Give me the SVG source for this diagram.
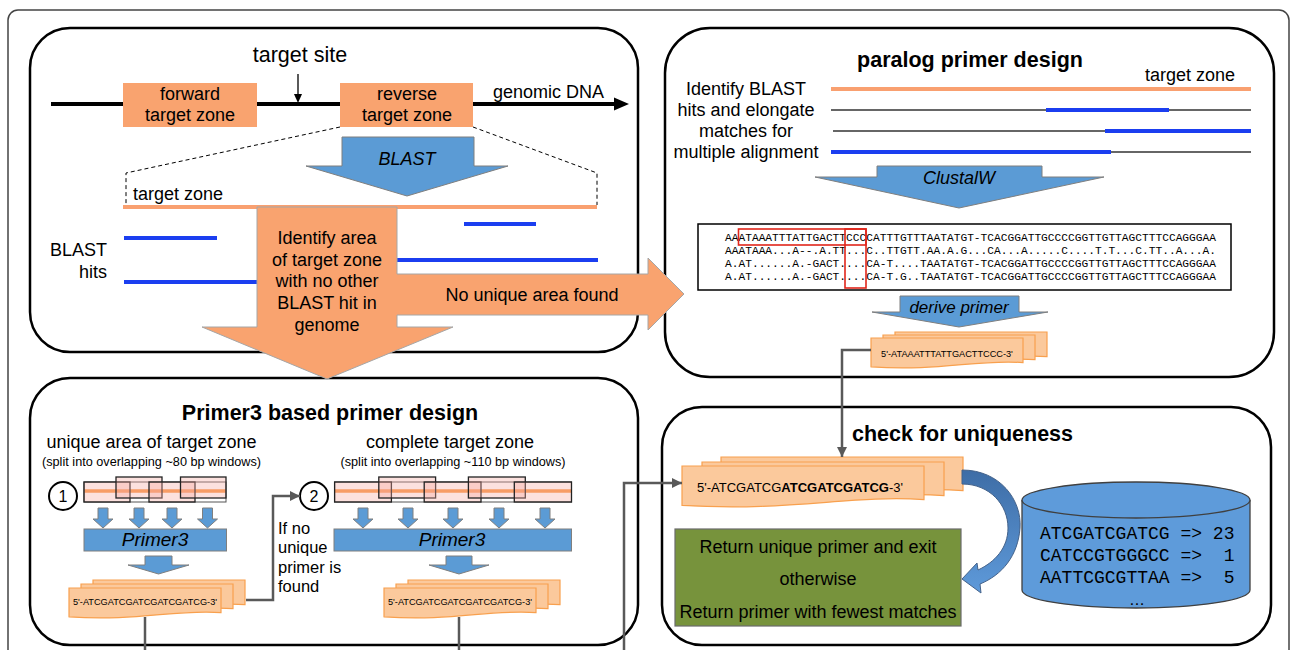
<svg xmlns="http://www.w3.org/2000/svg" width="1290" height="650" viewBox="0 0 1290 650">
<defs>
<style>
text{font-family:"Liberation Sans",Arial,sans-serif;fill:#000}
.t18{font-size:18px}
.c{text-anchor:middle}
.it{font-style:italic}
.title{font-weight:bold;font-size:21.5px}
.panel{fill:#fff;stroke:#000;stroke-width:2.5}
.blue{fill:#5B9BD5;stroke:#7F7F7F;stroke-width:1}
.zone{fill:#F9A36F}
.doc{fill:#FBC99C;stroke:#F8A04E;stroke-width:1.2}
.conn{fill:none;stroke:#595959;stroke-width:2.5}
.hit{stroke:#1B3EF0;stroke-width:4}
.thin{stroke:#333;stroke-width:1.3}
.oline{stroke:#F9A070;stroke-width:4}
.mono{font-family:"Liberation Mono","Courier New",monospace}
.pre{white-space:pre}
.win{fill:#F7A9A0;fill-opacity:0.35;stroke:#222;stroke-width:1.3}
.strip{fill:none;stroke:#555;stroke-width:1}
.red{fill:none;stroke:#E0261B;stroke-width:1.6}
</style>
<marker id="ah" viewBox="0 0 10 10" refX="10" refY="5" markerWidth="4" markerHeight="4" orient="auto" markerUnits="strokeWidth"><path d="M0,0 L10,5 L0,10 Z" fill="#595959"/></marker>
<path id="doc152" d="M0,0 H152 V24.6 C106.4,21 68.4,33.6 0,28.8 Z"/>
<path id="doc242" d="M0,0 H242 V33.6 C169.4,28.7 108.9,45.9 0,39.4 Z"/>
<path id="sa" d="M-5,0 h10 v11 h5 l-10,9 l-10,-9 h5 Z"/>
<linearGradient id="cg" x1="0" y1="0" x2="0" y2="1">
<stop offset="0" stop-color="#3E6DA6"/>
<stop offset="1" stop-color="#5E9ADA"/>
</linearGradient>
</defs>

<rect x="8" y="10" width="1281" height="700" rx="10" fill="#fff" stroke="#444" stroke-width="1.5"/>

<!-- Panel 1: target zone -->
<g id="panel-target">
<rect class="panel" x="30" y="28" width="608" height="324" rx="40"/>
<text class="c" x="300" y="62" style="font-size:21.5px">target site</text>
<line x1="298" y1="74" x2="298" y2="96" stroke="#000" stroke-width="1.3"/>
<path d="M294,94 L298,103 L302,94 Z" fill="#000"/>
<line x1="51" y1="104" x2="616" y2="104" stroke="#000" stroke-width="4"/>
<path d="M614,97.5 L629,104 L614,110.5 Z" fill="#000"/>
<text class="t18" x="493" y="98">genomic DNA</text>
<rect class="zone" x="123" y="83" width="134" height="44"/>
<text class="t18 c" x="190" y="100">forward</text>
<text class="t18 c" x="190" y="121">target zone</text>
<rect class="zone" x="340" y="83" width="133" height="44"/>
<text class="t18 c" x="407" y="100">reverse</text>
<text class="t18 c" x="407" y="121">target zone</text>
<path d="M340,127 L126,173 V205 M473,127 L597,173 V205" fill="none" stroke="#000" stroke-width="1" stroke-dasharray="4,3"/>
<path class="blue" d="M342,137 H474 V166 H508 L407,196 L306,166 H342 Z"/>
<text class="t18 c it" x="407" y="165">BLAST</text>
<text class="t18" x="133" y="200">target zone</text>
<line class="oline" x1="123" y1="207" x2="597" y2="207"/>
<line class="hit" x1="124" y1="238" x2="217" y2="238"/>
<line class="hit" x1="124" y1="282" x2="258" y2="282"/>
<line class="hit" x1="464" y1="224" x2="536" y2="224"/>
<line class="hit" x1="396" y1="260" x2="598" y2="260"/>
<text class="t18" x="107" y="256" text-anchor="end">BLAST</text>
<text class="t18" x="107" y="278" text-anchor="end">hits</text>
</g>

<!-- Panel 2: paralog primer design -->
<g id="panel-paralog">
<rect class="panel" x="665" y="28" width="609" height="349" rx="45"/>
<text class="title c" x="970" y="67">paralog primer design</text>
<text class="t18" x="1235" y="81" text-anchor="end">target zone</text>
<line class="oline" x1="831" y1="89" x2="1251" y2="89"/>
<line class="thin" x1="831" y1="110" x2="1251" y2="110"/>
<line class="thin" x1="833" y1="131" x2="1251" y2="131"/>
<line class="thin" x1="831" y1="152" x2="1251" y2="152"/>
<line class="hit" x1="1046" y1="110" x2="1169" y2="110"/>
<line class="hit" x1="1105" y1="131" x2="1251" y2="131"/>
<line class="hit" x1="831" y1="152" x2="1111" y2="152"/>
<text class="t18 c" x="746" y="95">Identify BLAST</text>
<text class="t18 c" x="746" y="116">hits and elongate</text>
<text class="t18 c" x="746" y="137">matches for</text>
<text class="t18 c" x="746" y="158">multiple alignment</text>
<path class="blue" d="M877,166 H1042 V177 H1104 L959,208 L815,177 H877 Z"/>
<text class="t18 c it" x="959" y="184">ClustalW</text>
<rect x="698" y="224" width="533" height="66" fill="#fff" stroke="#000" stroke-width="1.5"/>
<g style="font-size:11.2px">
<text class="mono" x="725" y="241" fill="#222" textLength="491" lengthAdjust="spacingAndGlyphs">AAATAAATTTATTGACTTCCCCATTTGTTTAATATGT-TCACGGATTGCCCCGGTTGTTAGCTTTCCAGGGAA</text>
<text class="mono" x="725" y="254" fill="#222" textLength="491" lengthAdjust="spacingAndGlyphs">AAATAAA...A--.A.TT...C..TTGTT.AA.A.G...CA...A.....C....T.T...C.TT..A...A.</text>
<text class="mono" x="725" y="267" fill="#222" textLength="491" lengthAdjust="spacingAndGlyphs">A.AT......A.-GACT....CA-T....TAATATGT-TCACGGATTGCCCCGGTTGTTAGCTTTCCAGGGAA</text>
<text class="mono" x="725" y="280" fill="#222" textLength="491" lengthAdjust="spacingAndGlyphs">A.AT......A.-GACT....CA-T.G..TAATATGT-TCACGGATTGCCCCGGTTGTTAGCTTTCCAGGGAA</text>
</g>
<rect class="red" x="738.5" y="229" width="127.5" height="16"/>
<rect class="red" x="845" y="229" width="21" height="59"/>
<path class="blue" d="M900,296 H1019 V312 H1048 L959,327 L872,312 H900 Z"/>
<text class="c it" x="959" y="313" style="font-size:17px">derive primer</text>
<use href="#doc152" class="doc" x="895" y="332"/>
<use href="#doc152" class="doc" x="883" y="335"/>
<use href="#doc152" class="doc" x="871" y="338"/>
<text class="c" x="947" y="357" style="font-size:9.2px">5'-ATAAATTTATTGACTTCCC-3'</text>
</g>

<!-- Panel 3: Primer3 based primer design -->
<g id="panel-primer3">
<rect class="panel" x="30" y="378" width="608" height="267" rx="40"/>
<text class="title c" x="330" y="420">Primer3 based primer design</text>
<text class="t18 c" x="151.5" y="448">unique area of target zone</text>
<text class="c" x="151.5" y="466" style="font-size:12.7px">(split into overlapping ~80 bp windows)</text>
<text class="t18 c" x="450" y="448">complete target zone</text>
<text class="c" x="453" y="466" style="font-size:12.7px">(split into overlapping ~110 bp windows)</text>
<circle cx="63" cy="496" r="14" fill="#fff" stroke="#000" stroke-width="2"/>
<text class="c" x="63" y="502" style="font-size:16px">1</text>
<circle cx="314" cy="496" r="14" fill="#fff" stroke="#000" stroke-width="2"/>
<text class="c" x="314" y="502" style="font-size:16px">2</text>
<line x1="84" y1="491" x2="226" y2="491" stroke="#F79646" stroke-width="3.5"/>
<rect class="strip" x="84" y="482" width="142" height="20"/>
<rect class="win" x="84" y="482" width="46" height="20"/>
<rect class="win" x="116" y="477" width="46" height="21"/>
<rect class="win" x="149" y="482" width="46" height="20"/>
<rect class="win" x="180.5" y="477" width="45.5" height="21"/>
<line x1="334.6" y1="491" x2="571.5" y2="491" stroke="#F79646" stroke-width="3.5"/>
<rect class="strip" x="334.6" y="482" width="236.9" height="20"/>
<rect class="win" x="334.6" y="482" width="56.8" height="20"/>
<rect class="win" x="378.8" y="477" width="56.8" height="21"/>
<rect class="win" x="424.2" y="482" width="56.8" height="20"/>
<rect class="win" x="468.4" y="477" width="56.9" height="21"/>
<rect class="win" x="514.3" y="482" width="57.2" height="20"/>
<use href="#sa" class="blue" x="103" y="508"/>
<use href="#sa" class="blue" x="139" y="508"/>
<use href="#sa" class="blue" x="172" y="508"/>
<use href="#sa" class="blue" x="207.5" y="508"/>
<use href="#sa" class="blue" x="363" y="508"/>
<use href="#sa" class="blue" x="408" y="508"/>
<use href="#sa" class="blue" x="453" y="508"/>
<use href="#sa" class="blue" x="499" y="508"/>
<use href="#sa" class="blue" x="545" y="508"/>
<rect class="blue" x="84" y="529" width="142.5" height="22"/>
<text class="t18 c it" x="155" y="546" style="font-size:19px">Primer3</text>
<rect class="blue" x="334" y="529" width="237.5" height="22"/>
<text class="t18 c it" x="452" y="546" style="font-size:19px">Primer3</text>
<path class="blue" d="M145,556 H172 V565 H189 L158.5,574 L128,565 H145 Z"/>
<path class="blue" d="M446,556 H472 V565 H489 L459,574 L429,565 H446 Z"/>
<use href="#doc152" class="doc" x="93" y="580"/>
<use href="#doc152" class="doc" x="81" y="584"/>
<use href="#doc152" class="doc" x="69" y="588"/>
<text class="c" x="145" y="605" style="font-size:9.2px">5'-ATCGATCGATCGATCGATCG-3'</text>
<use href="#doc152" class="doc" x="408" y="580"/>
<use href="#doc152" class="doc" x="396" y="584"/>
<use href="#doc152" class="doc" x="384" y="588"/>
<text class="c" x="460" y="605" style="font-size:9.2px">5'-ATCGATCGATCGATCGATCG-3'</text>
<text x="278" y="534" style="font-size:16.5px">If no</text>
<text x="278" y="553" style="font-size:16.5px">unique</text>
<text x="278" y="573" style="font-size:16.5px">primer is</text>
<text x="278" y="592" style="font-size:16.5px">found</text>
</g>

<!-- Panel 4: check for uniqueness -->
<g id="panel-check">
<rect class="panel" x="662" y="407" width="609" height="238" rx="40"/>
<text class="title" x="852" y="441">check for uniqueness</text>
<use href="#doc242" class="doc" x="721" y="457"/>
<use href="#doc242" class="doc" x="702" y="462"/>
<use href="#doc242" class="doc" x="682" y="466"/>
<text x="697" y="492" style="font-size:13px">5'-ATCGATCG<tspan font-weight="bold">ATCGATCGATCG</tspan>-3'</text>
<rect x="675" y="529" width="286" height="97" fill="#77933C" stroke="#6B6B6B" stroke-width="1.2"/>
<text class="t18 c" x="818" y="553">Return unique primer and exit</text>
<text class="t18 c" x="818" y="585">otherwise</text>
<text class="t18 c" x="818" y="618">Return primer with fewest matches</text>
<path d="M1022,500 V590 A114,18 0 0 0 1250,590 V500" fill="#5E9BDA" stroke="#404040" stroke-width="1.3"/>
<ellipse cx="1136" cy="500" rx="114" ry="18" fill="#5E9BDA" stroke="#404040" stroke-width="1.3"/>
<text class="mono pre" xml:space="preserve" x="1040" y="539" style="font-size:18px">ATCGATCGATCG =&gt; 23</text>
<text class="mono pre" xml:space="preserve" x="1040" y="561" style="font-size:18px">CATCCGTGGGCC =&gt;  1</text>
<text class="mono pre" xml:space="preserve" x="1040" y="583" style="font-size:18px">AATTCGCGTTAA =&gt;  5</text>
<text class="c" x="1137" y="605" style="font-size:16px">…</text>
<path d="M962,470 C1000,470 1022,500 1020,528 C1018,556 1002,575 980,584 L981,593 L962,579 L977,563 L978,570 C995,562 1008,548 1008,528 C1008,505 990,484 962,484 Z" fill="url(#cg)" stroke="#44628A" stroke-width="1"/>
</g>

<!-- big orange flow arrow -->
<g id="flow-arrow">
<path d="M257,207 H397 V274 H648 V258 L684,294 L648,330 V315 H397 V327 H453 L327,379 L202,327 H257 Z" fill="#F9A36F" stroke="#A6A6A6" stroke-width="1"/>
<text class="t18 c" x="327" y="244">Identify area</text>
<text class="t18 c" x="327" y="266">of target zone</text>
<text class="t18 c" x="327" y="287">with no other</text>
<text class="t18 c" x="327" y="309">BLAST hit in</text>
<text class="t18 c" x="327" y="331">genome</text>
<text class="t18 c" x="532" y="301">No unique area found</text>
</g>

<!-- connectors -->
<g id="connectors">
<path class="conn" d="M871,350 H842 V457" marker-end="url(#ah)" stroke-width="3"/>
<path class="conn" d="M246,600 H273 V496 H300" marker-end="url(#ah)" stroke-width="2"/>
<path class="conn" d="M145,617 V650" stroke-width="2"/>
<path class="conn" d="M459,617 V650" stroke-width="2"/>
<path class="conn" d="M624,650 V483 H682" marker-end="url(#ah)"/>
</g>
</svg>
